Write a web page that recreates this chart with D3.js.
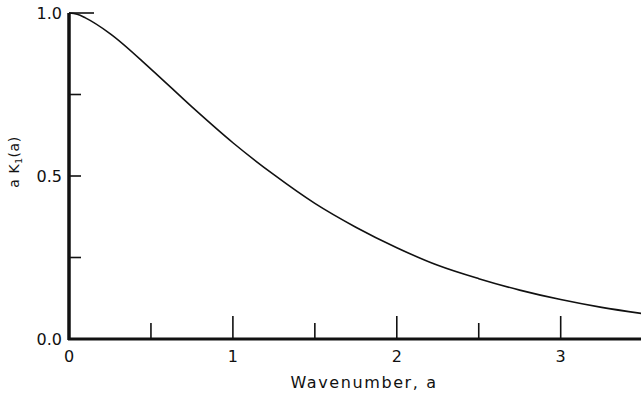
<!DOCTYPE html>
<html>
<head>
<meta charset="utf-8">
<script src="https://cdn.jsdelivr.net/npm/d3@7"></script>
<style>
  html, body { margin: 0; padding: 0; background: #fff; }
  svg { display: block; }
  text { font-family: "DejaVu Sans", sans-serif; fill: #111; }
</style>
</head>
<body>
<div id="chart"></div>
<script>
// a K1(a)
const wavenumber = [0, 0.05, 0.1, 0.25, 0.5, 0.75, 1, 1.25, 1.5, 1.75, 2, 2.25, 2.5, 2.75, 3, 3.25, 3.5];
const response   = [1, 0.996, 0.985, 0.937, 0.828, 0.712, 0.602, 0.504, 0.416, 0.343, 0.280, 0.226, 0.185, 0.150, 0.121, 0.097, 0.078];
const xTickLabels = [0, 1, 2, 3];
const yTickLabels = ['0.0', '0.5', '1.0'];
const yTickValues = [0, 0.5, 1];

const width = 641, height = 396;
const margin = { top: 13, right: 0, bottom: 57, left: 69 };

const svg = d3.select('#chart').append('svg')
  .attr('width', width)
  .attr('height', height);

const x = d3.scaleLinear().domain([0, 3.49]).range([margin.left, width - margin.right]);
const y = d3.scaleLinear().domain([0, 1]).range([height - margin.bottom, margin.top]);

const points = wavenumber.map((a, i) => ({ a, v: response[i] }));

svg.append('clipPath').attr('id', 'clip')
  .append('rect')
  .attr('x', margin.left).attr('y', 0)
  .attr('width', width - margin.left).attr('height', height);

const line = d3.line()
  .x(d => x(d.a))
  .y(d => y(d.v))
  .curve(d3.curveMonotoneX);

svg.append('path')
  .datum(points)
  .attr('clip-path', 'url(#clip)')
  .attr('fill', 'none')
  .attr('stroke', '#111')
  .attr('stroke-width', 1.6)
  .attr('d', line);

// x axis: ticks pointing up
const xAxis = svg.append('g').attr('transform', `translate(0,${y(0)})`);
xAxis.append('line')
  .attr('x1', margin.left - 1).attr('x2', width)
  .attr('stroke', '#111').attr('stroke-width', 3);
const halfTicks = d3.range(0.5, 3.5, 0.5);
xAxis.selectAll('.xt').data(halfTicks).enter().append('line')
  .attr('x1', d => x(d)).attr('x2', d => x(d))
  .attr('y1', 0)
  .attr('y2', d => Number.isInteger(d) ? -23 : -16)
  .attr('stroke', '#111').attr('stroke-width', 1.6);
xAxis.selectAll('.xl').data(xTickLabels).enter().append('text')
  .attr('x', d => x(d)).attr('y', 23)
  .attr('text-anchor', 'middle')
  .attr('font-size', 16)
  .text(d => d);

// y axis: ticks pointing right
const yAxis = svg.append('g').attr('transform', `translate(${x(0)},0)`);
yAxis.append('line')
  .attr('y1', y(1)).attr('y2', y(0) + 1)
  .attr('stroke', '#111').attr('stroke-width', 3.5);
yAxis.selectAll('.yt').data([0.25, 0.5, 0.75, 1]).enter().append('line')
  .attr('x1', 0).attr('x2', d => d === 1 ? 25 : 12)
  .attr('y1', d => y(d)).attr('y2', d => y(d))
  .attr('stroke', '#111').attr('stroke-width', 1.6);
yAxis.selectAll('.yl').data(yTickValues).enter().append('text')
  .attr('x', -7).attr('y', d => y(d) + 6)
  .attr('text-anchor', 'end')
  .attr('font-size', 16)
  .text((d, i) => yTickLabels[i]);

// axis titles
svg.append('text')
  .attr('x', 364).attr('y', 388)
  .attr('text-anchor', 'middle')
  .attr('font-size', 16)
  .attr('letter-spacing', 1.6)
  .text('Wavenumber, a');

const yTitle = svg.append('text')
  .attr('transform', 'translate(19,162) rotate(-90)')
  .attr('text-anchor', 'middle')
  .attr('font-size', 14)
  .attr('letter-spacing', 0.6);
yTitle.append('tspan').text('a K');
yTitle.append('tspan').attr('font-size', 9).attr('dy', 3).text('1');
yTitle.append('tspan').attr('dy', -3).text('(a)');
</script>
</body>
</html>
